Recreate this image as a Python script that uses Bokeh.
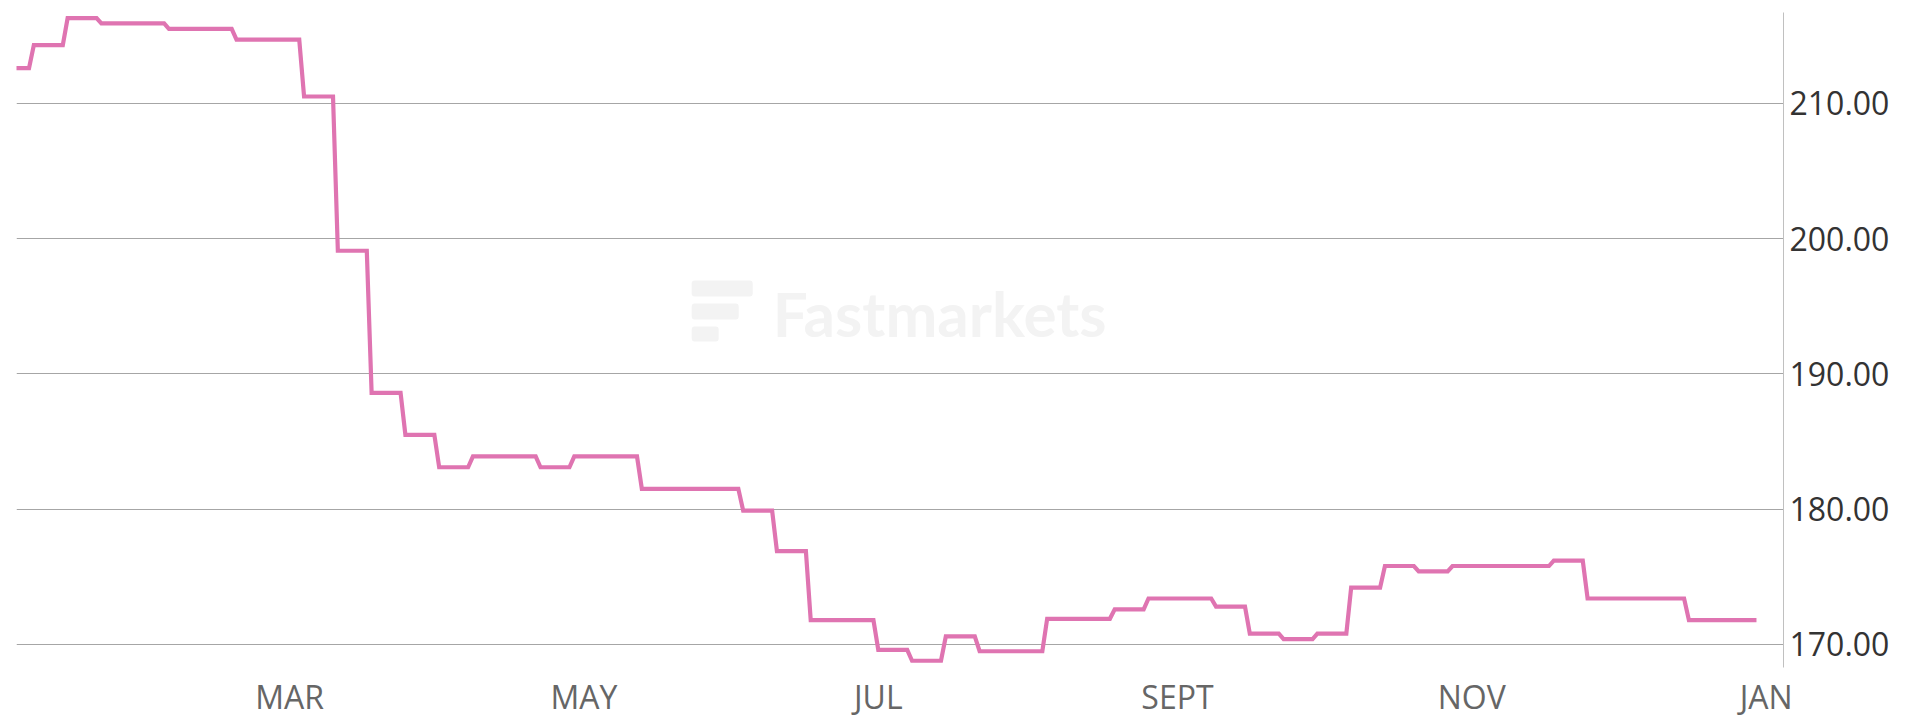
import pandas as pd
from bokeh.plotting import figure
from bokeh.models import Range1d, FixedTicker, NumeralTickFormatter, BoxAnnotation, Label
from bokeh.embed import file_html
from bokeh.resources import INLINE

# ---- data ----
change_dates = ["2022-01-03", "2022-01-07", "2022-01-14", "2022-01-21", "2022-02-04",
                "2022-02-18", "2022-03-04", "2022-03-11", "2022-03-18", "2022-03-25",
                "2022-04-01", "2022-04-08", "2022-04-22", "2022-04-29", "2022-05-13",
                "2022-06-03", "2022-06-10", "2022-06-17", "2022-07-01", "2022-07-08",
                "2022-07-15", "2022-07-22", "2022-08-05", "2022-08-19", "2022-08-26",
                "2022-09-09", "2022-09-16", "2022-09-23", "2022-09-30", "2022-10-07",
                "2022-10-14", "2022-10-21", "2022-10-28", "2022-11-18", "2022-11-25",
                "2022-12-16"]
prices = [212.6, 214.3, 216.3, 215.9, 215.5, 214.7, 210.5, 199.1, 188.6, 185.5,
          183.1, 183.9, 183.1, 183.9, 181.5, 179.9, 176.9, 171.8, 169.6, 168.8,
          170.6, 169.5, 171.9, 172.6, 173.4, 172.8, 170.8, 170.4, 170.8, 174.2,
          175.8, 175.4, 175.8, 176.2, 173.4, 171.8]
last_date = "2022-12-30"

month_ticks = ["2022-03-01", "2022-05-01", "2022-07-01", "2022-09-01", "2022-11-01", "2023-01-01"]
month_labels = ["MAR", "MAY", "JUL", "SEPT", "NOV", "JAN"]
y_ticks = [170, 180, 190, 200, 210]

# ---- build held-price line (each price held until the day before next change) ----
d = pd.to_datetime(change_dates)
ends = list(d[1:] - pd.Timedelta(days=1)) + [pd.Timestamp(last_date)]
xs, ys = [], []
for s, e, v in zip(d, ends, prices):
    xs += [s, e]
    ys += [v, v]

base = pd.Timestamp("2022-01-01")
x_start = base + pd.Timedelta(days=2.405)
x_end = base + pd.Timedelta(days=368.6)


def ms(ts):
    return ts.value / 1e6


p = figure(x_axis_type="datetime", y_axis_location="right",
           frame_width=1767, frame_height=655,
           x_range=Range1d(ms(x_start), ms(x_end)),
           y_range=Range1d(168.30, 216.71),
           output_backend="svg", toolbar_location=None,
           min_border_left=16, min_border_top=12, min_border_right=4, min_border_bottom=4)
p.outline_line_color = None
p.background_fill_color = "white"
p.border_fill_color = "white"

# watermark (decoration)
def wx(px):
    return ms(base + pd.Timedelta(days=(px - 4.4) / 4.824))


def wy(py):
    return 170 + (644 - py) / 13.53


wm_color = "#f3f3f3"
for (l, r, t, b) in [(691, 752, 280, 296), (691, 738, 303, 319), (691, 718, 326, 341)]:
    p.add_layout(BoxAnnotation(left=wx(l), right=wx(r), top=wy(t), bottom=wy(b),
                               fill_color=wm_color, fill_alpha=1.0, line_color=None,
                               border_radius=3, level="underlay"))
p.add_layout(Label(x=wx(772), y=wy(313), text="Fastmarkets", text_font="Lato",
                   text_font_style="bold", text_font_size="62px", text_color=wm_color,
                   text_baseline="alphabetic", level="underlay"))

p.line(xs, ys, line_color="#df74b1", line_width=4.2, line_join="miter")

# x axis
xa = p.xaxis[0]
tick_ms = [ms(pd.Timestamp(t)) for t in month_ticks]
xa.ticker = FixedTicker(ticks=tick_ms)
xa.major_label_overrides = {t: lab for t, lab in zip(tick_ms, month_labels)}
xa.axis_line_color = None
xa.major_tick_line_color = None
xa.minor_tick_line_color = None
xa.major_label_text_font = "Open Sans"
xa.major_label_text_font_size = "32px"
xa.major_label_text_color = "#666666"
xa.major_label_standoff = 1

# y axis
ya = p.yaxis[0]
ya.ticker = FixedTicker(ticks=y_ticks)
ya.formatter = NumeralTickFormatter(format="0.00")
ya.axis_line_color = "#c0c0c0"
ya.axis_line_width = 1
ya.major_tick_line_color = None
ya.minor_tick_line_color = None
ya.major_label_text_font = "Open Sans"
ya.major_label_text_font_size = "32px"
ya.major_label_text_color = "#333333"
ya.major_label_standoff = 0

p.xgrid.grid_line_color = None
p.ygrid.grid_line_color = "#a6a6a6"
p.ygrid.grid_line_width = 1

open("out.html", "w").write(file_html(p, INLINE))
